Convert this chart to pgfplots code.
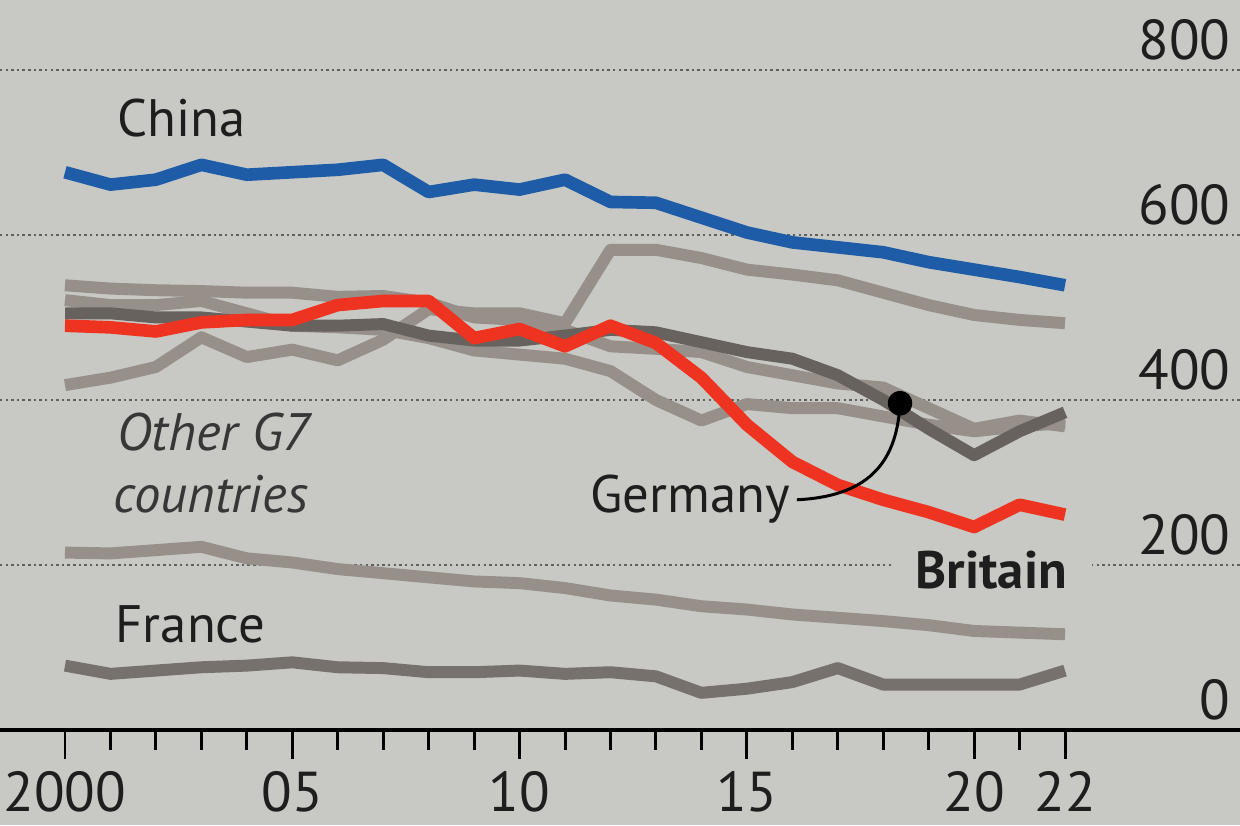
\documentclass[border=0pt]{standalone}
\usepackage{fontspec}
\setmainfont{PT Sans}
\usepackage{pgfplots}
\usepackage{pgfplotstable}
\pgfplotsset{compat=1.18}
\definecolor{paper}{RGB}{200,201,196}
\definecolor{chinablue}{RGB}{30,92,168}
\definecolor{britred}{RGB}{238,52,33}
\definecolor{greyline}{RGB}{150,143,138}
\definecolor{gerline}{RGB}{104,98,94}
\definecolor{fraline}{RGB}{118,113,108}
\definecolor{txt}{RGB}{30,30,30}
\definecolor{gridc}{RGB}{95,95,95}
\pgfplotstableread{
year china britain germany us italy japan canada france
2000 676 490 505 539 521 418 215 78
2001 661 488 505 535 515 427 214 68
2002 667 483 500 533 515 440 218 72
2003 685 494 500 532 520 476 222 76
2004 673 497 495 530 505 452 208 78
2005 676 497 490 530 490 461 203 82
2006 679 515 490 525 488 448 195 76
2007 685 520 492 526 485 473 190 75
2008 652 520 478 518 475 510 185 70
2009 661 475 472 500 460 505 180 70
2010 655 486 472 497 455 505 178 72
2011 667 465 478 485 450 493 172 68
2012 640 490 485 465 435 582 163 70
2013 639 469 482 462 400 582 158 65
2014 621 427 470 458 375 572 150 45
2015 603 370 458 440 395 558 146 50
2016 591 325 450 430 390 552 140 58
2017 585 297 430 420 390 545 136 75
2018 579 279 400 415 380 530 132 55
2019 567 264 365 390 370 515 127 55
2020 558 246 333 365 362 503 120 55
2021 549 273 362 375 368 497 118 55
2022 539 261 385 368 372 493 116 72
}\data
\begin{document}
\begin{tikzpicture}
\begin{axis}[
  width=12.4cm, height=8.25cm, scale only axis,
  xmin=1998.57, xmax=2025.85, ymin=-115.2, ymax=884.8,
  axis background/.style={fill=paper},
  axis x line=middle, axis y line=right,
  x axis line style={-, line width=1.1pt, black},
  y axis line style={draw=none},
  xtick={2000,2005,2010,2015,2020,2022},
  xticklabels={2000,05,10,15,20,22},
  minor xtick={2001,2002,2003,2004,2006,2007,2008,2009,2011,2012,2013,2014,2016,2017,2018,2019,2021},
  tick align=outside,
  xtick style={black, line width=0.85pt},
  major tick length=2.9mm, minor tick length=2.0mm,
  ytick={0,200,400,600,800}, yticklabels={0,200,400,600,800},
  ytick style={draw=none},
  ymajorgrids,
  major grid style={gridc, line width=0.6pt, dash pattern=on 0.7pt off 0.9pt},
  xticklabel style={font=\fontsize{16}{18}\selectfont, text=txt, anchor=north, inner sep=0pt, yshift=-1.2mm},
  yticklabel style={font=\fontsize{16}{18}\selectfont, text=txt, anchor=south east, inner sep=0pt, xshift=-3.8mm, yshift=0.9mm},
  every axis plot/.append style={line width=3.4pt, line join=round, no markers},
]
\addplot[greyline] table[x=year,y=canada]{\data};
\addplot[fraline] table[x=year,y=france]{\data};
\addplot[greyline] table[x=year,y=japan]{\data};
\addplot[greyline] table[x=year,y=us]{\data};
\addplot[greyline] table[x=year,y=italy]{\data};
\addplot[gerline] table[x=year,y=germany]{\data};
\addplot[britred, line width=3.6pt] table[x=year,y=britain]{\data};
\addplot[chinablue, line width=3.6pt] table[x=year,y=china]{\data};
\addplot[only marks, mark=*, mark size=1.8pt, black] coordinates {(2018.37,396)};
\draw[black, line width=0.85pt] (axis cs:2018.37,396) .. controls (axis cs:2018.3,320) and (axis cs:2017.6,283) .. (axis cs:2016.1,279);
\begin{scope}[every node/.style={font=\fontsize{15}{18}\selectfont, text=txt, anchor=base west, inner sep=0pt}]
\node at (axis cs:2001.14,718.8) {China};
\node[font=\fontsize{15}{18}\selectfont\itshape, text={rgb,255:red,55;green,55;blue,55}] at (axis cs:2001.14,339) {Other G7};
\node[font=\fontsize{15}{18}\selectfont\itshape, text={rgb,255:red,55;green,55;blue,55}] at (axis cs:2001.06,264) {countries};
\node at (axis cs:2001.1,105.5) {France};
\node at (axis cs:2011.55,264) {Germany};
\node[font=\fontsize{15}{18}\selectfont\bfseries, fill=paper, inner xsep=2.5mm, inner ysep=0.6mm] at (axis cs:2018.15,172) {Britain};
\end{scope}
\end{axis}
\pgfresetboundingbox
\useasboundingbox (current axis.south west) rectangle (current axis.north east);
\end{tikzpicture}
\end{document}
